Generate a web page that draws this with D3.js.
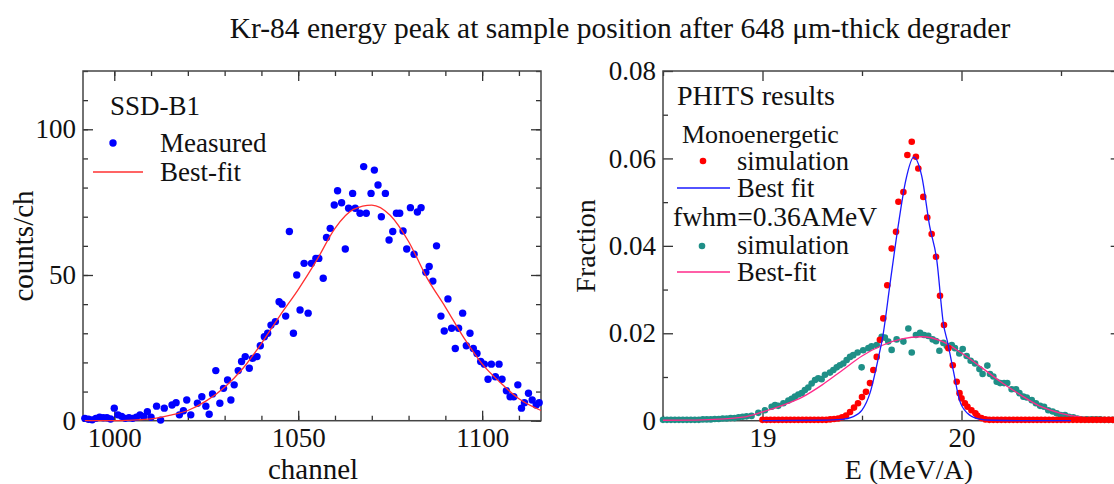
<!DOCTYPE html>
<html>
<head>
<meta charset="utf-8">
<script src="https://cdn.jsdelivr.net/npm/d3@7"></script>
<style>
    body { margin: 0; background: #fff; }
    text { font-family: "Liberation Serif", "Times New Roman", serif; fill: #111; }
</style>
</head>
<body>
<div id="chart"></div>
<script>
// left panel: SSD-B1 measured spectrum
let measuredChannel = [992, 993, 994, 995, 996, 997, 998, 999, 1000, 1001, 1002, 1003, 1004, 1005, 1006, 1007, 1008, 1009, 1010,
    1011.5, 1012.6, 1013.6, 1015.7, 1016.8, 1017.7, 1018.8, 1019.7, 1020.8, 1022.6, 1023.8, 1024.9, 1025.8, 1026.7, 1027.6,
    1028.7, 1029.7, 1030.8, 1031.7, 1032.6, 1033.7, 1034.6, 1035.6, 1036.7, 1037.6, 1038.8, 1039.7, 1040.8, 1041.7, 1042.6,
    1043.8, 1044.8, 1045.6, 1046.6, 1047.6, 1048.7, 1049.6, 1050.5, 1051.6, 1052.7, 1053.6, 1054.8, 1055.6, 1056.8, 1057.7,
    1058.7, 1059.8, 1060.7, 1061.8, 1062.8, 1063.7, 1064.8, 1065.5, 1066.8, 1067.8, 1068.5, 1069.8, 1070.7, 1071.7, 1072.6,
    1073.7, 1074.7, 1075.7, 1076.7, 1077.6, 1078.5, 1079.5, 1080.5, 1081.5, 1082.4, 1083.4, 1084.7, 1085.6, 1086.6, 1087.6,
    1088.8, 1089.7, 1090.7, 1091.7, 1092.7, 1093.6, 1094.7, 1095.7, 1096.7, 1097.6, 1098.6, 1099.6, 1100.6, 1101.6, 1102.5,
    1103.6, 1104.6, 1105.4, 1106.6, 1107.6, 1108.6, 1109.7, 1110.7, 1111.5, 1112.6, 1113.6, 1114.7, 1115.5];
let measuredCounts = [0.8, 0.5, 0.3, 0.8, 1.2, 1.0, 1.0, 0.6, 4.3, 2.0, 1.5, 0.8, 1.0, 0.8, 1.2, 2.0, 1.4, 3.1, 1.2,
    5.0, 0.2, 4.3, 5.4, 6.2, 2.0, 3.4, 7.1, 2.0, 6.0, 8.2, 5.0, 2.2, 9.2, 17.2,
    6.0, 11.1, 14.0, 7.1, 12.3, 17.2, 20.3, 22.0, 18.0, 21.4, 22.0, 25.7, 28.8, 30.0, 32.8,
    34.0, 40.8, 40.0, 35.9, 64.9, 30.0, 50.0, 38.0, 54.0, 36.9, 54.0, 55.7, 55.7, 48.9, 62.9,
    66.0, 74.0, 78.9, 74.8, 58.9, 72.9, 78.0, 72.9, 71.2, 87.2, 71.2, 78.0, 86.0, 80.9, 70.0,
    78.0, 62.0, 64.9, 71.2, 71.2, 65.1, 58.9, 73.1, 57.1, 71.6, 73.1, 50.9, 52.9, 47.9, 60.0,
    35.9, 30.8, 41.8, 31.7, 24.8, 31.7, 36.9, 25.7, 30.0, 24.8, 23.1, 20.3, 19.4, 14.2, 19.4,
    15.1, 19.4, 14.2, 10.3, 8.2, 8.2, 12.3, 4.3, 6.2, 9.4, 7.1, 5.4, 6.2];

let fitChannel = [992, 1000, 1005, 1010, 1015, 1020, 1025, 1030, 1035, 1040, 1045, 1050, 1055, 1060, 1065, 1070,
    1075, 1080, 1085, 1090, 1095, 1100, 1105, 1110, 1116];
let fitCounts = [0, 0, 0.2, 0.6, 1.8, 3.5, 6.8, 11.5, 18, 26.5, 36, 45, 55, 66, 72.5, 74,
    70.5, 61.5, 49, 39, 28.5, 19.5, 13, 7.5, 3.5];

let leftYTicks = [0, 50, 100];
let leftXTicks = [1000, 1050, 1100];

// right panel: PHITS results
let monoEnergy = [19.00, 19.02, 19.04, 19.06, 19.08, 19.10, 19.12, 19.14, 19.16, 19.18, 19.20, 19.22, 19.24, 19.26, 19.28,
    19.30, 19.32, 19.34, 19.36, 19.38, 19.40, 19.42, 19.44, 19.46, 19.48, 19.50, 19.52, 19.54, 19.557, 19.574, 19.59,
    19.607, 19.627, 19.649, 19.671, 19.683, 19.708, 19.728, 19.75, 19.771, 19.783, 19.808, 19.828, 19.85, 19.872, 19.892,
    19.912, 19.934, 19.956, 19.976, 19.99, 20.00, 20.017, 20.03, 20.05, 20.07, 20.08, 20.10, 20.12, 20.14, 20.16, 20.18,
    20.20, 20.22, 20.24, 20.26, 20.28, 20.30, 20.32, 20.34, 20.36, 20.38, 20.40, 20.42, 20.44, 20.46, 20.48, 20.50, 20.52,
    20.54, 20.56, 20.58, 20.60, 20.62, 20.64, 20.66, 20.68, 20.70, 20.72, 20.74, 20.76, 20.78];
let monoFraction = [0.0002, 0.0002, 0.0002, 0.0002, 0.0002, 0.0002, 0.0002, 0.0002, 0.0002, 0.0002, 0.0002, 0.0002, 0.0002, 0.0002, 0.0002,
    0.0002, 0.0002, 0.0003, 0.0004, 0.0005, 0.0008, 0.0012, 0.0020, 0.0030, 0.0040, 0.0054, 0.0066, 0.0086, 0.0116, 0.0146, 0.0185,
    0.0234, 0.0310, 0.0394, 0.0432, 0.0501, 0.0523, 0.0608, 0.0638, 0.0604, 0.0577, 0.0512, 0.0465, 0.0427, 0.0375, 0.0286,
    0.0219, 0.0166, 0.0127, 0.0089, 0.0063, 0.0051, 0.0040, 0.0032, 0.0024, 0.0017, 0.0011, 0.0006, 0.0003, 0.0002, 0.0002, 0.0002,
    0.0002, 0.0002, 0.0002, 0.0002, 0.0002, 0.0002, 0.0002, 0.0002, 0.0002, 0.0002, 0.0002, 0.0002, 0.0002, 0.0002, 0.0002, 0.0002, 0.0002,
    0.0002, 0.0002, 0.0002, 0.0002, 0.0002, 0.0002, 0.0002, 0.0002, 0.0002, 0.0002, 0.0002, 0.0002, 0.0002];

let monoFitEnergy = [19.0, 19.3, 19.4, 19.45, 19.5, 19.54, 19.58, 19.607, 19.64, 19.68, 19.72, 19.76, 19.8, 19.84, 19.875,
    19.91, 19.93, 19.96, 19.99, 20.03, 20.08, 20.15, 20.3, 20.55];
let monoFitFraction = [0, 0.0001, 0.0003, 0.0008, 0.0024, 0.0063, 0.0139, 0.0200, 0.0310, 0.0440, 0.0550, 0.0603, 0.0560, 0.0445, 0.0370,
    0.0219, 0.0180, 0.0112, 0.0047, 0.0017, 0.0005, 0.0001, 0, 0];

let spreadEnergy = [18.50, 18.52, 18.54, 18.56, 18.58, 18.60, 18.62, 18.64, 18.66, 18.68, 18.70, 18.72, 18.74, 18.76, 18.78, 18.80,
    18.82, 18.84, 18.86, 18.88, 18.90, 18.92, 18.945, 18.979, 19.012, 19.046, 19.063, 19.079, 19.105, 19.13, 19.147, 19.163,
    19.18, 19.197, 19.213, 19.23, 19.247, 19.264, 19.28, 19.297, 19.314, 19.339, 19.356, 19.373, 19.389, 19.406, 19.423, 19.44,
    19.456, 19.478, 19.498, 19.506, 19.532, 19.548, 19.574, 19.599, 19.615, 19.632, 19.649, 19.674, 19.708, 19.733, 19.75, 19.771,
    19.792, 19.812, 19.833, 19.855, 19.872, 19.889, 19.909, 19.926, 19.951, 19.967, 19.989, 20.006, 20.026, 20.046, 20.068, 20.09,
    20.106, 20.13, 20.143, 20.16, 20.177, 20.194, 20.214, 20.23, 20.252, 20.274, 20.291, 20.311, 20.328, 20.353, 20.374, 20.395,
    20.415, 20.436, 20.458, 20.478, 20.498, 20.52, 20.54, 20.562, 20.582, 20.604, 20.629, 20.654, 20.675, 20.696, 20.718, 20.74,
    20.76, 20.78];
let spreadFraction = [0.0002, 0.0002, 0.0002, 0.0002, 0.0002, 0.0002, 0.0002, 0.0002, 0.0002, 0.0002, 0.0003, 0.0003, 0.0003, 0.0004, 0.0004, 0.0005,
    0.0005, 0.0006, 0.0006, 0.0008, 0.0009, 0.0010, 0.0011, 0.0018, 0.0024, 0.0032, 0.0036, 0.0034, 0.0040, 0.0046, 0.0050, 0.0055,
    0.0060, 0.0063, 0.0070, 0.0076, 0.0085, 0.0093, 0.0097, 0.0095, 0.0105, 0.0110, 0.0116, 0.0122, 0.0127, 0.0131, 0.0139, 0.0146,
    0.0150, 0.0156, 0.0122, 0.0161, 0.0166, 0.0170, 0.0173, 0.0192, 0.0190, 0.0181, 0.0162, 0.0186, 0.0181, 0.0211, 0.0156, 0.0196,
    0.0201, 0.0196, 0.0194, 0.0186, 0.0182, 0.0160, 0.0178, 0.0171, 0.0173, 0.0166, 0.0154, 0.0164, 0.0148, 0.0137, 0.0131, 0.0118,
    0.0107, 0.0126, 0.0107, 0.0101, 0.0089, 0.0086, 0.0086, 0.0086, 0.0072, 0.0072, 0.0063, 0.0055, 0.0053, 0.0047, 0.0040, 0.0034,
    0.0032, 0.0024, 0.0021, 0.0017, 0.0013, 0.0013, 0.0009, 0.0008, 0.0005, 0.0003, 0.0003, 0.0003, 0.0003, 0.0003, 0.0002, 0.0002,
    0.0002, 0.0002];

let spreadFitEnergy = [18.5, 18.7, 18.9, 19.0, 19.1, 19.2, 19.3, 19.4, 19.5, 19.6, 19.7, 19.8, 19.9, 20.0, 20.1, 20.2,
    20.3, 20.4, 20.5, 20.6, 20.7, 20.8];
let spreadFitFraction = [0.0001, 0.0002, 0.0008, 0.0020, 0.0035, 0.0054, 0.0082, 0.0115, 0.0148, 0.0172, 0.0187, 0.0192, 0.0182, 0.0155, 0.0122, 0.0088,
    0.0058, 0.0032, 0.0017, 0.0008, 0.0004, 0.0002];

let rightYTicks = [0, 0.02, 0.04, 0.06, 0.08];
let rightXTicks = [19, 20];

const serif = '"Liberation Serif", "Times New Roman", serif';

function drawFrame(g, x, y, majorX, minorX, majorY, minorY, yFormat) {
    let [x0, x1] = x.range();
    let [y0, y1] = y.range();

    // minor ticks first, then labelled major ticks, all pointing inward
    g.append('g').attr('transform', `translate(0,${y0})`)
    .call(d3.axisBottom(x).tickValues(minorX).tickSize(-5).tickFormat(''));
    g.append('g').attr('transform', `translate(0,${y1})`)
    .call(d3.axisTop(x).tickValues(minorX).tickSize(-5).tickFormat(''));
    g.append('g').attr('transform', `translate(${x0},0)`)
    .call(d3.axisLeft(y).tickValues(minorY).tickSize(-5).tickFormat(''));
    g.append('g').attr('transform', `translate(${x1},0)`)
    .call(d3.axisRight(y).tickValues(minorY).tickSize(-5).tickFormat(''));

    g.append('g').attr('transform', `translate(0,${y0})`)
    .call(d3.axisBottom(x).tickValues(majorX).tickSize(-10).tickPadding(7).tickFormat(d3.format('d')));
    g.append('g').attr('transform', `translate(0,${y1})`)
    .call(d3.axisTop(x).tickValues(majorX).tickSize(-10).tickFormat(''));
    g.append('g').attr('transform', `translate(${x0},0)`)
    .call(d3.axisLeft(y).tickValues(majorY).tickSize(-10).tickPadding(7).tickFormat(yFormat));
    g.append('g').attr('transform', `translate(${x1},0)`)
    .call(d3.axisRight(y).tickValues(majorY).tickSize(-10).tickFormat(''));

    g.selectAll('.domain').remove();
    g.selectAll('.tick line').attr('stroke', '#333').attr('stroke-width', 1.3);
    g.selectAll('.tick text').attr('font-size', 27).attr('fill', '#111').attr('font-family', serif);

    g.append('rect')
    .attr('x', x0).attr('y', y1)
    .attr('width', x1 - x0).attr('height', y0 - y1)
    .attr('fill', 'none').attr('stroke', '#444').attr('stroke-width', 1.5);
}

function label(g, x, y, size, str) {
    return g.append('text')
    .attr('x', x).attr('y', y)
    .attr('font-family', serif)
    .attr('font-size', size)
    .text(str);
}

function visualize() {
    let width = 1114;
    let height = 484;

    const svg = d3.select('#chart')
    .append('svg')
    .attr('width', width)
    .attr('height', height)
    .attr('font-family', serif)

    label(svg, 620, 38, 29.5, 'Kr-84 energy peak at sample position after 648 \u03bcm-thick degrader')
    .attr('text-anchor', 'middle');

    // ---- left panel ----
    let xL = d3.scaleLinear().domain([991.5, 1116]).range([83, 541]);
    let yL = d3.scaleLinear().domain([0, 120]).range([420.7, 71]);
    let left = svg.append('g');

    drawFrame(left, xL, yL, leftXTicks, d3.range(1000, 1116, 10), leftYTicks, d3.range(0, 121, 10), d3.format('d'));

    left.selectAll('circle.meas')
    .data(measuredChannel)
    .enter()
    .append('circle')
    .attr('class', 'meas')
    .attr('cx', d => xL(d))
    .attr('cy', (d, i) => yL(measuredCounts[i]))
    .attr('r', 3.7)
    .attr('fill', '#0000ff')

    left.append('path')
    .datum(fitChannel)
    .attr('d', d3.line().curve(d3.curveMonotoneX).x(d => xL(d)).y((d, i) => yL(fitCounts[i])))
    .attr('fill', 'none')
    .attr('stroke', '#ff3030')
    .attr('stroke-width', 1.3)

    label(left, 110, 115, 27, 'SSD-B1');
    left.append('circle').attr('cx', 113).attr('cy', 143).attr('r', 3.7).attr('fill', '#0000ff');
    label(left, 160, 152, 27, 'Measured');
    left.append('line').attr('x1', 93).attr('x2', 143).attr('y1', 172).attr('y2', 172)
    .attr('stroke', '#ff3030').attr('stroke-width', 1.3);
    label(left, 160, 181, 27, 'Best-fit');

    label(left, 313, 479, 29, 'channel').attr('text-anchor', 'middle');
    label(left, 0, 0, 29, 'counts/ch')
    .attr('transform', 'translate(33,246) rotate(-90)')
    .attr('text-anchor', 'middle');

    // ---- right panel ----
    let xR = d3.scaleLinear().domain([18.5, 20.8]).range([663, 663 + 2.3 * 199]);
    let yR = d3.scaleLinear().domain([0, 0.08]).range([420.7, 71]);
    let right = svg.append('g');

    drawFrame(right, xR, yR, rightXTicks, [18.5, 19.5, 20.5], rightYTicks, [0.01, 0.03, 0.05, 0.07], d => d === 0 ? '0' : d3.format('.2f')(d));

    right.selectAll('circle.spread')
    .data(spreadEnergy)
    .enter()
    .append('circle')
    .attr('class', 'spread')
    .attr('cx', d => xR(d))
    .attr('cy', (d, i) => yR(spreadFraction[i]))
    .attr('r', 3.3)
    .attr('fill', '#1f8f87')

    right.append('path')
    .datum(spreadFitEnergy)
    .attr('d', d3.line().curve(d3.curveMonotoneX).x(d => xR(d)).y((d, i) => yR(spreadFitFraction[i])))
    .attr('fill', 'none')
    .attr('stroke', '#ff2a8a')
    .attr('stroke-width', 1.3)

    right.selectAll('circle.mono')
    .data(monoEnergy)
    .enter()
    .append('circle')
    .attr('class', 'mono')
    .attr('cx', d => xR(d))
    .attr('cy', (d, i) => yR(monoFraction[i]))
    .attr('r', 3.3)
    .attr('fill', '#ff0000')

    right.append('path')
    .datum(monoFitEnergy)
    .attr('d', d3.line().curve(d3.curveMonotoneX).x(d => xR(d)).y((d, i) => yR(monoFitFraction[i])))
    .attr('fill', 'none')
    .attr('stroke', '#1a1aff')
    .attr('stroke-width', 1.3)

    label(right, 677, 105, 28, 'PHITS results');
    label(right, 682, 143, 26, 'Monoenergetic');
    right.append('circle').attr('cx', 703).attr('cy', 161).attr('r', 3.3).attr('fill', '#ff0000');
    label(right, 737, 170, 26.5, 'simulation');
    right.append('line').attr('x1', 677).attr('x2', 730).attr('y1', 188).attr('y2', 188)
    .attr('stroke', '#1a1aff').attr('stroke-width', 1.3);
    label(right, 737, 197, 26.5, 'Best fit');
    label(right, 673, 226, 27.5, 'fwhm=0.36AMeV');
    right.append('circle').attr('cx', 702).attr('cy', 246).attr('r', 3.3).attr('fill', '#1f8f87');
    label(right, 737, 254, 26.5, 'simulation');
    right.append('line').attr('x1', 677).attr('x2', 730).attr('y1', 272).attr('y2', 272)
    .attr('stroke', '#ff2a8a').attr('stroke-width', 1.3);
    label(right, 737, 281, 26.5, 'Best-fit');

    label(right, 909, 479, 28, 'E (MeV/A)').attr('text-anchor', 'middle');
    label(right, 0, 0, 28, 'Fraction')
    .attr('transform', 'translate(595,246) rotate(-90)')
    .attr('text-anchor', 'middle');
}

visualize();
</script>
</body>
</html>
